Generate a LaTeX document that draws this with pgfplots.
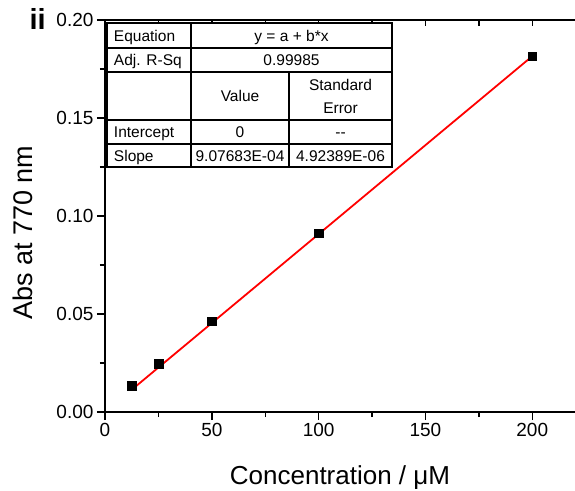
\documentclass[border=0pt]{standalone}
\usepackage{fontspec}
\setmainfont{Liberation Sans}
\usepackage{pgfplots}
\pgfplotsset{compat=1.18}
\begin{document}
\begin{tikzpicture}[x=1pt,y=1pt]
\begin{axis}[name=ax, scale only axis, width=470pt, height=392pt,
  xmin=0, xmax=220, ymin=0, ymax=0.2,
  xtick={0,50,100,150,200}, ytick={0,0.05,0.10,0.15,0.20},
  minor x tick num=1, minor y tick num=1,
  axis x line*=bottom, axis y line*=left,
  tick align=outside,
  major tick length=8pt, minor tick length=5pt,
  axis line style={line width=1.4pt, black, -},
  every tick/.style={line width=1.4pt, black},
  /pgf/number format/assume math mode=true,
  yticklabel style={/pgf/number format/.cd, fixed, fixed zerofill, precision=2},
  xticklabel style={/pgf/number format/.cd, fixed, precision=0},
  tick label style={font=\fontsize{19}{19}\selectfont, black},
  scaled y ticks=false,
  xlabel={Concentration / μM},
  xlabel style={font=\fontsize{26}{26}\selectfont, at={(axis description cs:0.5,0)}, anchor=base, yshift=-72pt},
  ylabel={Abs at 770 nm},
  ylabel style={font=\fontsize{27}{27}\selectfont, at={(axis description cs:-0.1553,0.457)}, anchor=base, rotate=0},
  clip=false,
]
\addplot[red, line width=1.8pt] coordinates {(12.5,0.011346) (200,0.181537)};
\addplot[only marks, mark=square*, mark size=4.3pt, black] coordinates {
(12.5,0.0133) (25,0.0245) (50,0.0464) (100,0.0913) (200,0.1816)};
\end{axis}
\begin{axis}[scale only axis, width=470pt, height=392pt,
  xmin=0, xmax=220, ymin=0, ymax=0.2,
  xtick={0,25,...,200},
  axis x line*=top, hide y axis, xticklabels={},
  tick align=inside, major tick length=6pt,
  axis line style={line width=1.4pt, black, -},
  every tick/.style={line width=1.4pt, black},
]
\end{axis}
% fit table
\begin{scope}[shift={(ax.north west)}, line width=1.3pt]
  \fill[white] (2,-3) rectangle (287,-147);
  \draw (2,-3) rectangle (287,-147);
  \draw (2,-28) -- (287,-28);
  \draw (2,-52) -- (287,-52);
  \draw (2,-100) -- (287,-100);
  \draw (2,-124) -- (287,-124);
  \draw (86,-3) -- (86,-147);
  \draw (184,-52) -- (184,-147);
  \begin{scope}[font=\fontsize{15.5}{17}\selectfont]
  \node[anchor=base west] at (5,-22) {Equation};
  \node[anchor=base] at (186.5,-22) {y = a + b*x};
  \node[anchor=base west] at (5,-46) {Adj. R-Sq};
  \node[anchor=base] at (186.5,-46) {0.99985};
  \node[anchor=base] at (135,-82) {Value};
  \node[anchor=base] at (235.5,-71) {Standard};
  \node[anchor=base] at (235.5,-94) {Error};
  \node[anchor=base west] at (5,-118) {Intercept};
  \node[anchor=base] at (135,-118) {0};
  \node[anchor=base] at (235.5,-118) {{-}{-}};
  \node[anchor=base west] at (5,-142) {Slope};
  \node[anchor=base] at (135,-142) {9.07683E-04};
  \node[anchor=base] at (235.5,-142) {4.92389E-06};
  \end{scope}
\end{scope}
\node[font=\bfseries\fontsize{29}{29}\selectfont, anchor=base west] at ([shift={(-79pt,-10pt)}]ax.north west) {ii};
\pgfresetboundingbox
\path[use as bounding box] ([shift={(-105pt,-78pt)}]ax.south west) rectangle ([shift={(0pt,20pt)}]ax.north east);
\end{tikzpicture}
\end{document}
